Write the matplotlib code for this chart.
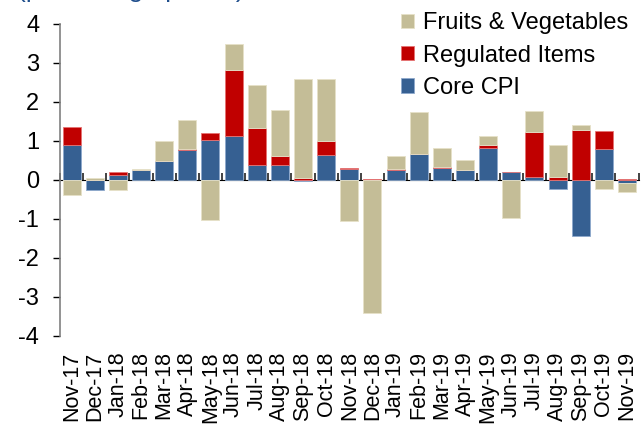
import numpy as np
import matplotlib
matplotlib.use("Agg")
import matplotlib.pyplot as plt

plt.rcParams["font.family"] = ["Liberation Sans", "DejaVu Sans"]
plt.rcParams["axes.unicode_minus"] = False

months = ["Nov-17", "Dec-17", "Jan-18", "Feb-18", "Mar-18", "Apr-18", "May-18",
          "Jun-18", "Jul-18", "Aug-18", "Sep-18", "Oct-18", "Nov-18", "Dec-18",
          "Jan-19", "Feb-19", "Mar-19", "Apr-19", "May-19", "Jun-19", "Jul-19",
          "Aug-19", "Sep-19", "Oct-19", "Nov-19"]

core = [0.90, -0.25, 0.12, 0.26, 0.48, 0.77, 1.02, 1.11, 0.39, 0.39, -0.03, 0.63,
        0.28, 0.00, 0.26, 0.65, 0.29, 0.24, 0.81, 0.19, 0.08, -0.24, -1.44, 0.79, -0.08]
regulated = [0.45, 0.00, 0.08, 0.00, 0.01, 0.02, 0.18, 1.69, 0.94, 0.21, 0.04, 0.36,
             0.03, 0.02, 0.02, 0.02, 0.03, 0.02, 0.08, 0.02, 1.13, 0.08, 1.27, 0.45, 0.02]
fruits = [-0.38, 0.04, -0.25, 0.02, 0.51, 0.73, -1.02, 0.67, 1.09, 1.18, 2.53, 1.59,
          -1.05, -3.40, 0.33, 1.07, 0.50, 0.24, 0.23, -0.99, 0.55, 0.80, 0.14, -0.24, -0.23]

series = [("Core CPI", core, "#366092", "#8EA9CC"),
          ("Regulated Items", regulated, "#C00000", "#E57373"),
          ("Fruits & Vegetables", fruits, "#C4BD97", "#E6E1C8")]

fig = plt.figure(figsize=(6.44, 4.28), dpi=100)
ax = fig.add_axes([60 / 644, 1 - 336 / 428, 578.6 / 644, 312.5 / 428])

x = np.arange(len(months))
pos_base = np.zeros(len(months))
neg_base = np.zeros(len(months))
handles = []
for name, vals, color, edge in series:
    vals = np.array(vals)
    bottom = np.where(vals >= 0, pos_base, neg_base)
    b = ax.bar(x, vals, width=0.78, bottom=bottom, color=color,
               edgecolor=edge, linewidth=0.6, label=name, zorder=2)
    handles.append(b)
    pos_base += np.where(vals >= 0, vals, 0)
    neg_base += np.where(vals < 0, vals, 0)

ax.set_xlim(-0.5, len(months) - 0.5)
ax.set_ylim(-4, 4)
ax.set_yticks(range(-4, 5))
ax.tick_params(axis="y", labelsize=17, length=5, width=1, pad=10, colors="black")
ax.set_xticks(x)
ax.set_xticklabels(months, rotation=90, fontsize=15.5)
ax.tick_params(axis="x", length=0, pad=11)

for s in ["top", "right", "bottom"]:
    ax.spines[s].set_visible(False)
ax.spines["left"].set_color("#808080")
ax.spines["left"].set_linewidth(1.2)

# zero line with category boundary ticks
bounds = np.arange(len(months) + 1) - 0.5
zero = ax.secondary_xaxis(0.5)
zero.set_xticks(bounds, labels=[""] * len(bounds))
zero.tick_params(axis="x", length=5, width=1.2, colors="#222222")
zero.spines["bottom"].set_color("#404040")
zero.spines["bottom"].set_linewidth(1.5)

leg = fig.legend(handles[::-1], [h.get_label() for h in handles[::-1]],
                 loc="upper left", bbox_to_anchor=(392 / 644, 1 - 3 / 428),
                 frameon=False, fontsize=17, handlelength=0.55, handleheight=0.55,
                 handletextpad=0.35, labelspacing=0.43, borderaxespad=0)

fig.text(17 / 644, 1 + 3 / 428, "(percentage points)", color="#1F4E8C",
         fontsize=19, va="baseline", ha="left")

fig.savefig("out.png", dpi=100)
